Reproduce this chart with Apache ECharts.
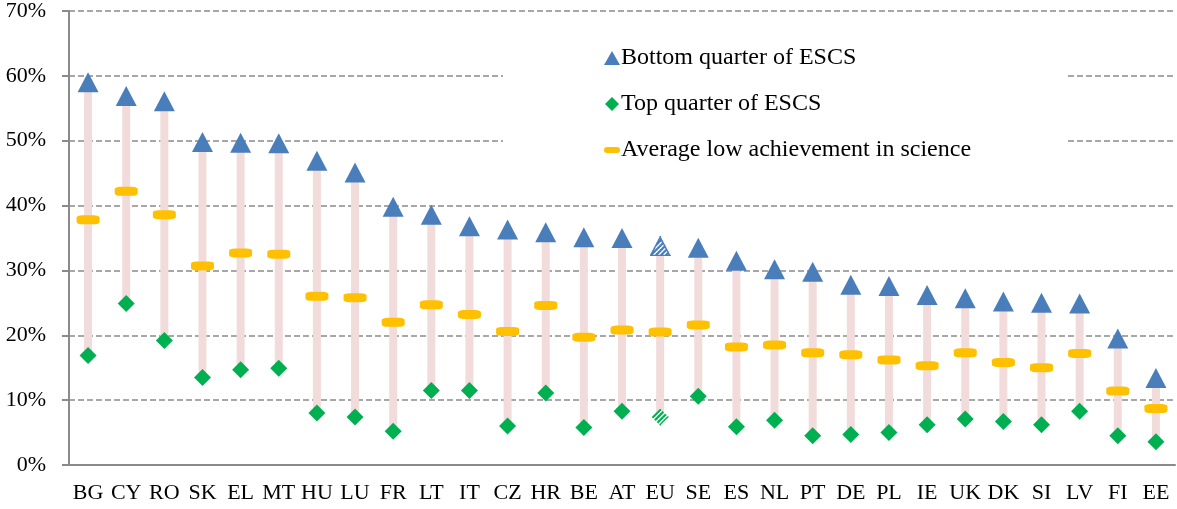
<!DOCTYPE html>
<html>
<head>
<meta charset="utf-8">
<script src="https://cdn.jsdelivr.net/npm/echarts@6/dist/echarts.min.js"></script>
<style>
  html, body { margin: 0; padding: 0; background: #fff; }
  #chart { width: 1177px; height: 509px; }
</style>
</head>
<body>
<div id="chart"></div>
<script>
// countries, sorted by bottom quarter share
const countries = ['BG', 'CY', 'RO', 'SK', 'EL', 'MT', 'HU', 'LU', 'FR', 'LT', 'IT', 'CZ', 'HR', 'BE',
  'AT', 'EU', 'SE', 'ES', 'NL', 'PT', 'DE', 'PL', 'IE', 'UK', 'DK', 'SI', 'LV', 'FI', 'EE']

// low achievers, bottom quarter of ESCS (%)
const bottomQuarter = [59.0, 56.9, 56.1, 49.8, 49.7, 49.6, 46.9, 45.1, 39.8, 38.6, 36.8, 36.3, 35.9, 35.1,
  35.0, 33.7, 33.5, 31.5, 30.2, 29.8, 27.8, 27.6, 26.2, 25.7, 25.2, 25.0, 24.9, 19.5, 13.4]

// low achievers, top quarter of ESCS (%)
const topQuarter = [16.9, 24.9, 19.2, 13.5, 14.7, 14.9, 8.0, 7.4, 5.2, 11.5, 11.5, 6.0, 11.1, 5.8,
  8.3, 7.4, 10.6, 5.9, 6.9, 4.5, 4.7, 5.0, 6.2, 7.1, 6.7, 6.2, 8.3, 4.5, 3.6]

// average low achievement in science (%)
const average = [37.8, 42.2, 38.6, 30.7, 32.7, 32.5, 26.0, 25.8, 22.0, 24.7, 23.2, 20.6, 24.6, 19.7,
  20.8, 20.5, 21.6, 18.2, 18.5, 17.3, 17.0, 16.2, 15.3, 17.3, 15.8, 15.0, 17.2, 11.4, 8.7]

const yTicks = [0, 10, 20, 30, 40, 50, 60, 70]

const serif = '"Liberation Serif", "DejaVu Serif", serif'
const blue = '#4a7ebb'
const green = '#00b050'
const euIndex = countries.indexOf('EU')

const triSize = [21, 20]
const diaSize = [17, 17]

// striped marker image for the EU (drawn on a small canvas)
function hatched(kind, size, fill, stripe, border) {
  const [w, h] = size
  const s = 3
  const c = document.createElement('canvas')
  c.width = w * s
  c.height = h * s
  const ctx = c.getContext('2d')
  ctx.scale(s, s)
  const outline = () => {
    ctx.beginPath()
    if (kind === 'triangle') {
      ctx.moveTo(w / 2, 0.8)
      ctx.lineTo(w - 0.8, h - 0.8)
      ctx.lineTo(0.8, h - 0.8)
    } else {
      ctx.moveTo(w / 2, 0)
      ctx.lineTo(w, h / 2)
      ctx.lineTo(w / 2, h)
      ctx.lineTo(0, h / 2)
    }
    ctx.closePath()
  }
  ctx.save()
  outline()
  ctx.clip()
  ctx.fillStyle = fill
  ctx.fillRect(0, 0, w, h)
  ctx.strokeStyle = stripe
  ctx.lineWidth = 2.2
  for (let k = -h; k < w + h; k += 5) {
    ctx.beginPath()
    ctx.moveTo(k, h)
    ctx.lineTo(k + h, 0)
    ctx.stroke()
  }
  ctx.restore()
  if (border) {
    outline()
    ctx.strokeStyle = border
    ctx.lineWidth = 1.5
    ctx.stroke()
  }
  return 'image://' + c.toDataURL()
}

const euTriangle = hatched('triangle', triSize, '#ffffff', blue, blue)
const euDiamond = hatched('diamond', diaSize, '#ffffff', green, null)

const markData = (values, symbol) => values.map((v, i) => i === euIndex
  ? { value: v, symbol: symbol }
  : v)

const chart = echarts.init(document.getElementById('chart'))

const option = {
  animation: false,
  grid: {
    left: 69,
    right: 2,
    top: 10,
    bottom: 44
  },
  graphic: [{
    type: 'rect',
    z: 3,
    shape: { x: 503, y: 22, width: 564, height: 160 },
    style: { fill: '#fff' }
  }],
  legend: {
    orient: 'vertical',
    left: 599,
    top: 41,
    z: 5,
    itemGap: 22,
    itemWidth: 16,
    itemHeight: 14,
    textStyle: {
      fontFamily: serif,
      fontSize: 24,
      color: '#000',
      padding: [0, 0, 0, -4]
    },
    data: [
      { name: 'Bottom quarter of ESCS', icon: 'triangle' },
      { name: 'Top quarter of ESCS', icon: 'path://M5,0L10,5L5,10L0,5Z' },
      { name: 'Average low achievement in science', icon: 'path://M3,0H13A3,3,0,0,1,13,6H3A3,3,0,0,1,3,0Z' }
    ]
  },
  xAxis: {
    type: 'category',
    data: countries,
    axisLine: { lineStyle: { color: '#8a8a8a', width: 2 } },
    axisTick: { length: 7, lineStyle: { color: '#8a8a8a', width: 2 } },
    axisLabel: {
      interval: 0,
      margin: 17,
      fontFamily: serif,
      fontSize: 22,
      color: '#000'
    }
  },
  yAxis: {
    type: 'value',
    min: yTicks[0],
    max: yTicks[yTicks.length - 1],
    interval: 10,
    axisLine: { show: true, lineStyle: { color: '#8a8a8a', width: 2 } },
    axisTick: { show: true, length: 7, lineStyle: { color: '#8a8a8a', width: 2 } },
    axisLabel: {
      margin: 23,
      fontFamily: serif,
      fontSize: 22,
      color: '#000',
      formatter: (v) => v + '%'
    },
    splitLine: {
      lineStyle: { color: '#8a8a8a', width: 1.5, type: [6, 3] }
    }
  },
  series: [
    {
      name: 'base',
      type: 'bar',
      stack: 'range',
      barWidth: 8,
      itemStyle: { color: 'transparent' },
      data: topQuarter
    },
    {
      name: 'range',
      type: 'bar',
      stack: 'range',
      barWidth: 8,
      itemStyle: { color: '#f2dcdb' },
      data: bottomQuarter.map((v, i) => +(v - topQuarter[i]).toFixed(1))
    },
    {
      name: 'Average low achievement in science',
      type: 'scatter',
      symbol: 'roundRect',
      symbolSize: [23, 9],
      itemStyle: { color: '#ffc000', opacity: 1 },
      z: 3,
      data: average
    },
    {
      name: 'Top quarter of ESCS',
      type: 'scatter',
      symbol: 'diamond',
      symbolSize: diaSize,
      itemStyle: { color: green, opacity: 1 },
      z: 3,
      data: markData(topQuarter, euDiamond)
    },
    {
      name: 'Bottom quarter of ESCS',
      type: 'scatter',
      symbol: 'triangle',
      symbolSize: triSize,
      itemStyle: { color: blue, opacity: 1 },
      z: 3,
      data: markData(bottomQuarter, euTriangle)
    }
  ]
}

chart.setOption(option)
</script>
</body>
</html>
